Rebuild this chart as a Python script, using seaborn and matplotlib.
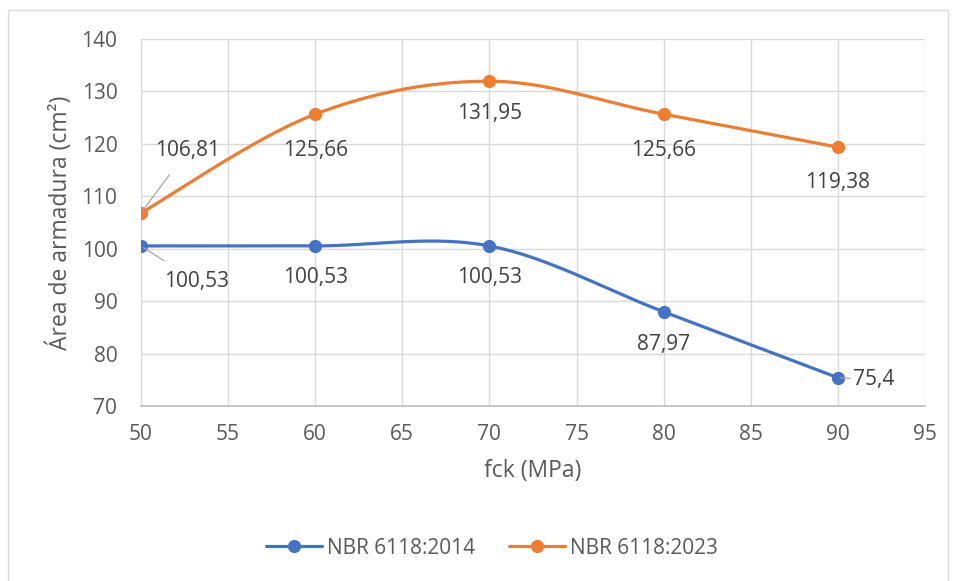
import numpy as np
import pandas as pd
import seaborn as sns
import matplotlib.pyplot as plt
from matplotlib.lines import Line2D
from matplotlib.patches import Rectangle

# data
fck = [50, 60, 70, 80, 90]
area_2014 = [100.53, 100.53, 100.53, 87.97, 75.4]
area_2023 = [106.81, 125.66, 131.95, 125.66, 119.38]
labels_2014 = ["100,53", "100,53", "100,53", "87,97", "75,4"]
labels_2023 = ["106,81", "125,66", "131,95", "125,66", "119,38"]
series_names = ["NBR 6118:2014", "NBR 6118:2023"]
colors = ["#4472C4", "#ED7D31"]


def smooth(x, y, n=40):
    # Excel-like smoothed line (cubic Bezier, Catmull-Rom control points)
    p = np.column_stack([x, y]).astype(float)
    out = []
    for i in range(len(p) - 1):
        p0 = p[i - 1] if i > 0 else p[i]
        p1, p2 = p[i], p[i + 1]
        p3 = p[i + 2] if i + 2 < len(p) else p[i + 1]
        c1 = p1 + (p2 - p0) / 6
        c2 = p2 - (p3 - p1) / 6
        t = np.linspace(0, 1, n)[:, None]
        seg = ((1 - t) ** 3) * p1 + 3 * ((1 - t) ** 2) * t * c1 + 3 * (1 - t) * t ** 2 * c2 + t ** 3 * p2
        out.append(seg if i == 0 else seg[1:])
    s = np.vstack(out)
    return s[:, 0], s[:, 1]


sns.set_theme(style="whitegrid")
plt.rcParams['font.family'] = ['Open Sans', 'DejaVu Sans']
text_color = "#595959"
fs = 15

fig = plt.figure(figsize=(9.55, 5.81), dpi=100)
ax = fig.add_axes([0.1476, 0.3012, 0.821, 0.6317])

# chart border
fig.patches.append(Rectangle((8 / 955, -0.01), 940 / 955, 1 - 10 / 581 + 0.01,
                             transform=fig.transFigure, fill=False,
                             edgecolor="#d9d9d9", linewidth=1))

for ys, labs, col, offs, leaders in [
    (area_2014, labels_2014, colors[0],
     [(56, -36), (0, -32), (0, -32), (0, -33), (36, -2)], [True, False, False, False, True]),
    (area_2023, labels_2023, colors[1],
     [(47, 63), (0, -36), (0, -32), (0, -36), (0, -35)], [True, False, False, False, False]),
]:
    sx, sy = smooth(fck, ys)
    df = pd.DataFrame({"x": sx, "y": sy})
    sns.lineplot(data=df, x="x", y="y", sort=False, color=col, linewidth=2.3, ax=ax)
    ax.plot(fck, ys, linestyle="none", marker="o", markersize=8.5, color=col, zorder=3)
    for xv, yv, lab, off, lead in zip(fck, ys, labs, offs, leaders):
        ax.annotate(lab, (xv, yv), xytext=off, textcoords="offset pixels",
                    ha="center", va="center", fontsize=fs, color="#404040",
                    arrowprops=dict(arrowstyle="-", color="#a6a6a6", lw=0.9,
                                    shrinkA=10, shrinkB=2) if lead else None)

ax.set_xlim(50, 95)
ax.set_ylim(70, 140)
ax.set_xticks(range(50, 96, 5))
ax.set_yticks(range(70, 141, 10))
ax.grid(True, color="#d9d9d9", linewidth=1)
for s in ["top", "right", "left"]:
    ax.spines[s].set_visible(False)
ax.spines["bottom"].set_color("#bfbfbf")
ax.tick_params(axis="both", length=0, labelsize=fs, labelcolor=text_color)
ax.tick_params(axis="x", pad=13)
ax.tick_params(axis="y", pad=17)
ax.set_xlabel("fck (MPa)", fontsize=16.5, color=text_color, labelpad=10)
ax.set_ylabel("Área de armadura (cm²)", fontsize=16.5, color=text_color, labelpad=6)

handles = [Line2D([], [], color=c, marker="o", markersize=8.5, linewidth=2.3) for c in colors]
fig.legend(handles, series_names, loc="center", bbox_to_anchor=(492 / 955, 1 - 548 / 581),
           ncol=2, frameon=False, fontsize=fs, labelcolor=text_color,
           handlelength=2.7, columnspacing=1.6, handletextpad=0.25)

fig.savefig("out.png", dpi=100)
